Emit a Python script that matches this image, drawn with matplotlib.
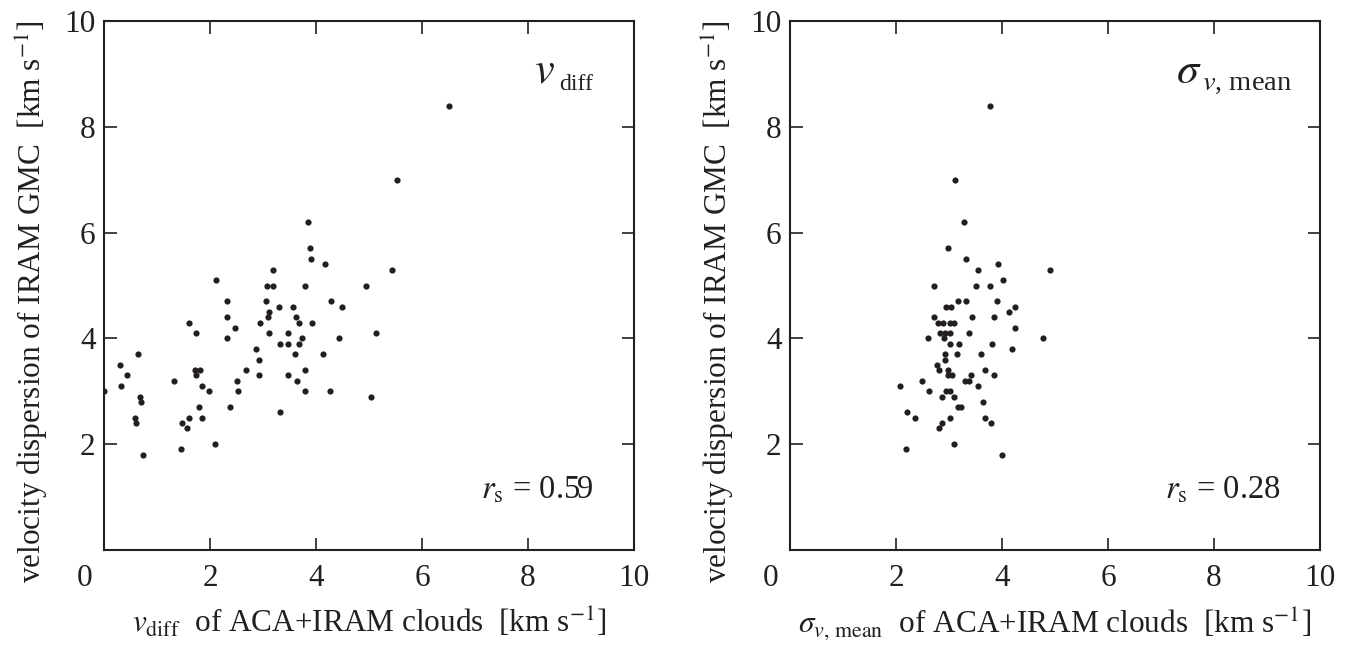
import matplotlib
matplotlib.use('Agg')
import matplotlib.pyplot as plt

# --- DATA ---
# left panel: v_diff of ACA+IRAM clouds vs velocity dispersion of IRAM GMC
vdiff_x = [2.11, 3.08, 3.18, 2.32, 3.06, 3.30, 3.11, 2.33, 3.09, 1.60,
           2.95, 2.47, 1.74, 3.11, 2.33, 3.32, 0.64, 2.87, 2.92, 0.30,
           1.72, 1.81, 2.67, 0.44, 1.74, 2.92, 1.32, 2.50, 0.32, 1.85,
           1.99, 2.53, 0.00, 0.67, 0.70, 1.79, 2.38, 3.32, 0.58, 1.60,
           1.85, 0.60, 1.48, 1.56, 2.09, 1.45, 0.74, 3.84, 3.89, 3.91,
           4.17, 3.18, 5.43, 3.79, 4.95, 4.29, 4.49, 3.56, 3.62, 3.68,
           3.92, 3.47, 5.13, 3.48, 3.68, 3.73, 4.44, 3.61, 4.14, 3.79,
           3.47, 3.65, 3.79, 4.27, 5.04, 5.53, 6.51]
vdiff_y = [5.1, 5.0, 5.0, 4.7, 4.7, 4.6, 4.5, 4.4, 4.4, 4.3,
           4.3, 4.2, 4.1, 4.1, 4.0, 3.9, 3.7, 3.8, 3.6, 3.5,
           3.4, 3.4, 3.4, 3.3, 3.3, 3.3, 3.2, 3.2, 3.1, 3.1,
           3.0, 3.0, 3.0, 2.9, 2.8, 2.7, 2.7, 2.6, 2.5, 2.5,
           2.5, 2.4, 2.4, 2.3, 2.0, 1.9, 1.8, 6.2, 5.7, 5.5,
           5.4, 5.3, 5.3, 5.0, 5.0, 4.7, 4.6, 4.6, 4.4, 4.3,
           4.3, 4.1, 4.1, 3.9, 3.9, 4.0, 4.0, 3.7, 3.7, 3.4,
           3.3, 3.2, 3.0, 3.0, 2.9, 7.0, 8.4]

# right panel: sigma_v,mean of ACA+IRAM clouds vs velocity dispersion of IRAM GMC
sig_x = [3.77, 3.12, 3.29, 2.98, 3.33, 3.92, 3.54, 4.90, 4.01, 2.72,
         3.50, 3.77, 2.95, 3.03, 3.17, 3.32, 3.91, 4.24, 4.13, 2.72,
         3.44, 3.84, 2.80, 2.89, 3.01, 3.10, 4.24, 2.83, 2.93, 3.02,
         3.38, 2.61, 2.90, 4.78, 3.02, 3.18, 3.82, 4.19, 2.92, 3.15,
         3.60, 2.93, 2.77, 2.81, 2.98, 3.67, 2.99, 3.05, 3.41, 3.85,
         2.49, 3.31, 3.37, 2.08, 3.55, 2.63, 2.95, 3.01, 2.86, 3.10,
         3.65, 3.17, 3.23, 2.21, 2.36, 3.01, 3.67, 2.86, 3.79, 2.81,
         3.09, 2.18, 4.00]
sig_y = [8.4, 7.0, 6.2, 5.7, 5.5, 5.4, 5.3, 5.3, 5.1, 5.0,
         5.0, 5.0, 4.6, 4.6, 4.7, 4.7, 4.7, 4.6, 4.5, 4.4,
         4.4, 4.4, 4.3, 4.3, 4.3, 4.3, 4.2, 4.1, 4.1, 4.1,
         4.1, 4.0, 4.0, 4.0, 3.9, 3.9, 3.9, 3.8, 3.7, 3.7,
         3.7, 3.6, 3.5, 3.4, 3.4, 3.4, 3.3, 3.3, 3.3, 3.3,
         3.2, 3.2, 3.2, 3.1, 3.1, 3.0, 3.0, 3.0, 2.9, 2.9,
         2.8, 2.7, 2.7, 2.6, 2.5, 2.5, 2.5, 2.4, 2.4, 2.3,
         2.0, 1.9, 1.8]

ticks = [0, 2, 4, 6, 8, 10]
tick_labels = ['', '2', '4', '6', '8', '10']

UNIT = '[km s$^{\\mathrm{-1}}$]'
panels = [
    dict(x=vdiff_x, y=vdiff_y, sym=r'$v$', sub='diff', sub_fs=17,
         sym_x=0.811, sub_x=0.858, rs='0.59',
         xlabel=r'$v_{\mathrm{diff}}$' + '  of ACA+IRAM clouds  ' + UNIT),
    dict(x=sig_x, y=sig_y, sym=r'$\sigma$', sub=r'$v$, mean', sub_fs=20.5,
         sym_x=0.728, sub_x=0.778, rs='0.28',
         xlabel=r'$\sigma_{v,\,\mathrm{mean}}$' + '  of ACA+IRAM clouds  ' + UNIT),
]

INK = '#231f20'
FS = 22.5
plt.rcParams['font.family'] = ['Liberation Serif', 'DejaVu Serif']
plt.rcParams['mathtext.fontset'] = 'stix'

fig = plt.figure(figsize=(13.61, 6.46), dpi=100, facecolor='white')
lefts = [104 / 1361, 790 / 1361]
for left, p in zip(lefts, panels):
    ax = fig.add_axes([left, 96 / 646, 530 / 1361, 529 / 646])
    ax.scatter(p['x'], p['y'], s=20, color=INK, linewidths=0, zorder=3)
    ax.set_xlim(0, 10)
    ax.set_ylim(0, 10)
    ax.set_xticks(ticks)
    ax.set_xticklabels(tick_labels)
    ax.set_yticks(ticks)
    ax.set_yticklabels(tick_labels)
    ax.tick_params(direction='in', length=9, width=1.2, colors=INK,
                   labelsize=FS, top=True, right=True)
    ax.tick_params(axis='x', pad=10)
    ax.tick_params(axis='y', pad=6)
    for s in ax.spines.values():
        s.set_linewidth(1.5)
        s.set_color(INK)
    # shared corner "0"
    ax.annotate('0', xy=(0, 0), xytext=(-19, -28), textcoords='offset pixels',
                ha='center', va='center', fontsize=FS, color=INK)
    # panel tag: big symbol + small roman subscript
    ax.text(p['sym_x'], 0.883, p['sym'], transform=ax.transAxes, ha='left',
            va='baseline', fontsize=32, color=INK)
    ax.text(p['sub_x'], 0.869, p['sub'], transform=ax.transAxes, ha='left',
            va='baseline', fontsize=p['sub_fs'], color=INK)
    ax.text(0.925, 0.098, r'$r_{\mathrm{s}}$' + ' = ' + p['rs'], transform=ax.transAxes,
            ha='right', va='baseline', fontsize=23.5, color=INK)
    ax.set_xlabel(p['xlabel'], fontsize=FS, color=INK)
    ax.xaxis.set_label_coords(0.5, -0.105)
    ax.set_ylabel('velocity dispersion of IRAM GMC  ' + UNIT,
                  fontsize=FS, color=INK)
    ax.yaxis.set_label_coords(-0.1, 0.47)

fig.savefig('out.png', dpi=100, facecolor='white')
